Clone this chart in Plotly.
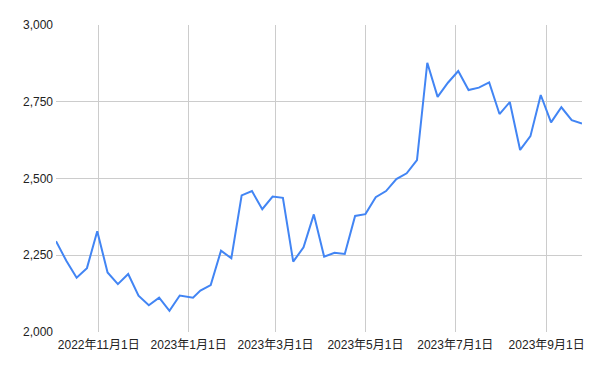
import plotly.graph_objects as go

dates = [
    "2022-10-03", "2022-10-10", "2022-10-17", "2022-10-24", "2022-10-31",
    "2022-11-07", "2022-11-14", "2022-11-21", "2022-11-28", "2022-12-05",
    "2022-12-12", "2022-12-19", "2022-12-26", "2023-01-04", "2023-01-09",
    "2023-01-16", "2023-01-23", "2023-01-30", "2023-02-06", "2023-02-13",
    "2023-02-20", "2023-02-27", "2023-03-06", "2023-03-13", "2023-03-20",
    "2023-03-27", "2023-04-03", "2023-04-10", "2023-04-17", "2023-04-24",
    "2023-05-01", "2023-05-08", "2023-05-15", "2023-05-22", "2023-05-29",
    "2023-06-05", "2023-06-12", "2023-06-19", "2023-06-26", "2023-07-03",
    "2023-07-10", "2023-07-17", "2023-07-24", "2023-07-31", "2023-08-07",
    "2023-08-14", "2023-08-21", "2023-08-28", "2023-09-04", "2023-09-11",
    "2023-09-18", "2023-09-25",
]
values = [
    2296, 2232, 2177, 2208, 2328,
    2194, 2156, 2189, 2118, 2087,
    2112, 2069, 2119, 2112, 2135,
    2153, 2265, 2240, 2445, 2459,
    2400, 2441, 2437, 2229, 2276,
    2383, 2245, 2258, 2254, 2378,
    2384, 2439, 2459, 2498, 2517,
    2560, 2877, 2766, 2812, 2850,
    2788, 2796, 2813, 2710, 2749,
    2593, 2638, 2772, 2683, 2732,
    2690, 2679,
]
x_tick_vals = ["2022-11-01", "2023-01-01", "2023-03-01", "2023-05-01", "2023-07-01", "2023-09-01"]
x_tick_text = ["2022年11月1日", "2023年1月1日", "2023年3月1日", "2023年5月1日", "2023年7月1日", "2023年9月1日"]
y_tick_vals = [2000, 2250, 2500, 2750, 3000]

fig = go.Figure()
fig.add_trace(go.Scatter(
    x=dates, y=values, mode="lines",
    line=dict(color="#4285F4", width=2),
    showlegend=False,
))

font_family = "Arial, 'Liberation Sans', 'Noto Sans CJK JP', sans-serif"
fig.update_layout(
    width=600, height=371,
    margin=dict(l=56, r=18, t=25, b=39),
    paper_bgcolor="white", plot_bgcolor="white",
    font=dict(family=font_family, size=12, color="#222222"),
    xaxis=dict(
        range=[dates[0], dates[-1]],
        tickmode="array", tickvals=x_tick_vals, ticktext=x_tick_text,
        showgrid=True, gridcolor="#cccccc", gridwidth=1,
        zeroline=False, showline=False, ticks="",
        ticklabelstandoff=4,
        tickfont=dict(size=12, color="#222222"),
    ),
    yaxis=dict(
        range=[2000, 3000],
        tickmode="array", tickvals=y_tick_vals, tickformat=",",
        showgrid=True, gridcolor="#cccccc", gridwidth=1,
        zeroline=False, showline=False, ticks="",
        ticklabelstandoff=2,
        tickfont=dict(size=12, color="#222222"),
    ),
)
fig.write_html("out.html")
